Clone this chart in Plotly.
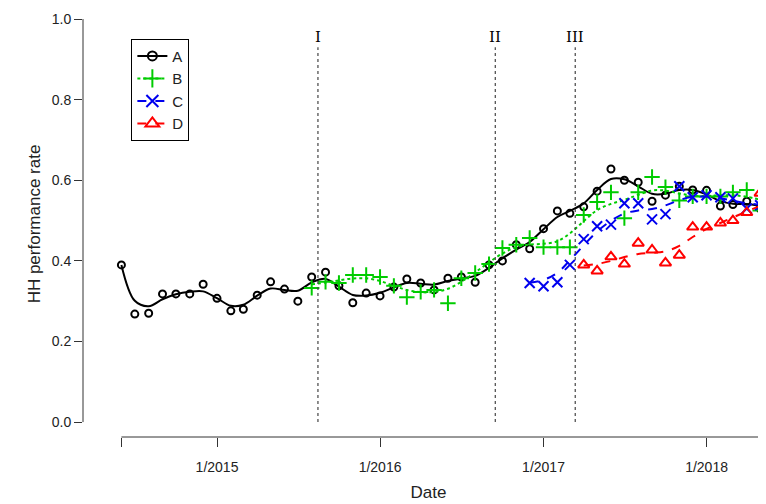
import numpy as np
import pandas as pd
import plotly.graph_objects as go

# monthly dates June 2014 - May 2018
dates = pd.date_range("2014-06-01", periods=48, freq="MS")

a_vals = [0.39, 0.268, 0.27, 0.318, 0.318, 0.318, 0.342, 0.307, 0.276, 0.28, 0.315, 0.348,
          0.33, 0.30, 0.36, 0.372, 0.338, 0.296, 0.32, 0.313, 0.335, 0.355, 0.345, 0.328,
          0.357, 0.36, 0.347, 0.39, 0.40, 0.44, 0.43, 0.48, 0.524, 0.518, 0.534, 0.573,
          0.628, 0.60, 0.595, 0.548, 0.563, 0.585, 0.576, 0.575, 0.536, 0.54, 0.548, 0.53]
b_start = 14
b_vals = [0.333, 0.348, 0.345, 0.365, 0.365, 0.36, 0.338, 0.31, 0.323, 0.328, 0.295, 0.357,
          0.37, 0.392, 0.432, 0.44, 0.457, 0.434, 0.434, 0.434, 0.514, 0.546, 0.57, 0.506,
          0.57, 0.608, 0.583, 0.55, 0.56, 0.56, 0.56, 0.57, 0.576, 0.525]
c_start = 30
c_vals = [0.345, 0.337, 0.347, 0.39, 0.454, 0.486, 0.49, 0.543, 0.543, 0.503, 0.516, 0.585,
          0.558, 0.563, 0.558, 0.555, 0.53, 0.538]
d_start = 34
d_vals = [0.39, 0.375, 0.41, 0.392, 0.444, 0.427, 0.395, 0.414, 0.484, 0.484, 0.494, 0.50,
          0.52, 0.568]

events = ["2015-08-15", "2016-09-15", "2017-03-13"]
event_labels = ["I", "II", "III"]


def smooth(v, bw=1.6):
    v = np.array(v)
    idx = np.arange(len(v))
    out = []
    for i in idx:
        w = np.exp(-0.5 * ((idx - i) / bw) ** 2)
        out.append((w * v).sum() / w.sum())
    return out


series = [
    ("A", dates, a_vals, "black", "circle-open", "solid", 7, 0.9),
    ("B", dates[b_start:b_start + len(b_vals)], b_vals, "#00cc00", "cross-thin-open", "dot", 11, 1.4),
    ("C", dates[c_start:c_start + len(c_vals)], c_vals, "#0000ee", "x-thin-open", "dash", 10, 1.4),
    ("D", dates[d_start:d_start + len(d_vals)], d_vals, "#ff0000", "triangle-up-open", "dash", 10, 1.4),
]

fig = go.Figure()
for name, x, y, col, sym, dash, sz, bw in series:
    fig.add_trace(go.Scatter(x=x, y=y, mode="markers", showlegend=False,
                             marker=dict(symbol=sym, size=sz, color=col,
                                         line=dict(width=2, color=col))))
    sm = smooth(y, bw)
    if name == "A":
        sm[0] = y[0]
    fig.add_trace(go.Scatter(x=x, y=sm, mode="lines",
                             line=dict(color=col, width=2, dash=dash, shape="spline"),
                             showlegend=False))
    fig.add_trace(go.Scatter(x=[None], y=[None], mode="lines+markers", name=name,
                             line=dict(color=col, width=2, dash=dash),
                             marker=dict(symbol=sym, size=sz + 2, color=col,
                                         line=dict(width=2, color=col))))

for d, lab in zip(events, event_labels):
    fig.add_shape(type="line", x0=d, x1=d, y0=0, y1=0.93, xref="x", yref="y",
                  line=dict(color="#444", width=1.2, dash="dot"))
    fig.add_annotation(x=d, y=0.955, text=lab, showarrow=False,
                       font=dict(size=15, color="#000000", family="DejaVu Serif"))

# y axis line from 0 to 1 (R style)
fig.add_shape(type="line", xref="paper", yref="y", x0=0, x1=0, y0=0, y1=1,
              line=dict(color="#333", width=1))

fig.update_layout(
    width=766, height=504, plot_bgcolor="white", paper_bgcolor="white",
    margin=dict(l=75, r=0, t=3, b=75),
    font=dict(family="Liberation Sans, Arial", size=14, color="#222"),
    xaxis=dict(range=["2014-03-07", "2018-06-01"], showgrid=False, zeroline=False,
               automargin=False,
               tickvals=["2014-06-01", "2015-01-01", "2016-01-01", "2017-01-01", "2018-01-01"],
               ticktext=["", "1/2015", "1/2016", "1/2017", "1/2018"],
               ticks="outside", ticklen=9, tickcolor="#333", showline=False,
               ticklabelstandoff=8,
               title=dict(text="Date", standoff=12)),
    yaxis=dict(range=[-0.037, 1.02], showgrid=False, zeroline=False, automargin=False,
               tickvals=[0, 0.2, 0.4, 0.6, 0.8, 1.0],
               ticktext=["0.0", "0.2", "0.4", "0.6", "0.8", "1.0"],
               ticks="outside", ticklen=8, tickcolor="#333",
               title=dict(text="HH performance rate", standoff=6)),
    legend=dict(x=0.07, y=0.935, xanchor="left", yanchor="top", bordercolor="black",
                borderwidth=1, bgcolor="white", font=dict(size=15), tracegroupgap=2),
)
# x axis line from first tick to the right edge
fig.add_shape(type="line", xref="x", yref="paper", x0="2014-06-01", x1="2018-06-01", y0=0, y1=0,
              line=dict(color="#333", width=1))

fig.write_html("out.html")
